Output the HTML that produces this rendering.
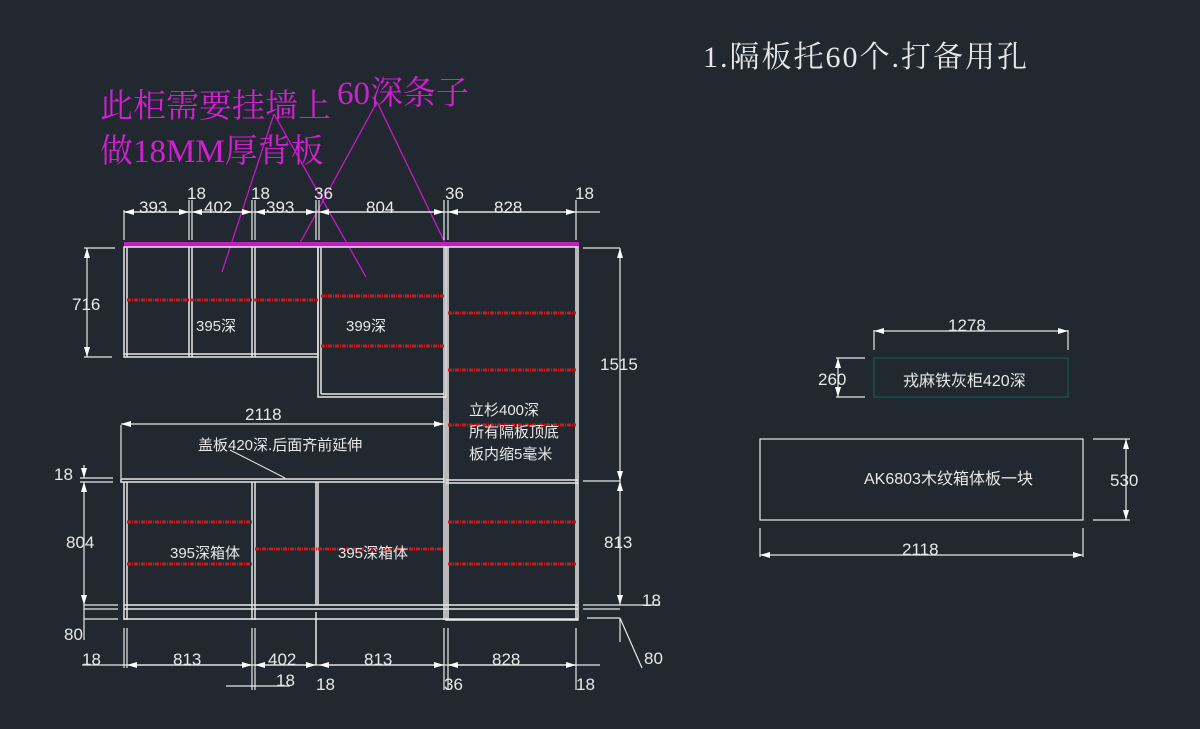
<!DOCTYPE html>
<html><head><meta charset="utf-8"><style>
html,body{margin:0;padding:0;background:#212830;}
svg{display:block}
text{font-family:"Liberation Sans","Noto Sans CJK SC",sans-serif;fill:#e8e8e8;}
.s{font-family:"Liberation Serif","Noto Serif CJK SC",serif;}
</style></head><body>
<svg width="1200" height="729" viewBox="0 0 1200 729" xmlns="http://www.w3.org/2000/svg">
<rect width="1200" height="729" fill="#212830"/>
<defs>
<marker id="a" viewBox="0 0 10 6" refX="10" refY="3" markerWidth="10" markerHeight="6" orient="auto-start-reverse" markerUnits="userSpaceOnUse"><path d="M0,0L10,3L0,6z" fill="#fff"/></marker>
</defs>
<!-- title -->
<text class="s" x="703" y="67" font-size="30" letter-spacing="2" fill="#eee">1.隔板托60个.打备用孔</text>
<!-- magenta notes -->
<text class="s" x="100" y="117" font-size="33" style="fill:#d020d0">此柜需要挂墙上</text>
<text class="s" x="100" y="162" font-size="33" style="fill:#d020d0">做18MM厚背板</text>
<text class="s" x="337" y="104" font-size="33" style="fill:#d020d0">60深条子</text>
<g stroke="#c818c8" stroke-width="1.3" fill="none">
<line x1="274" y1="114" x2="222" y2="272"/><line x1="274" y1="114" x2="366" y2="277"/>
<line x1="377" y1="102" x2="300" y2="243"/><line x1="377" y1="102" x2="446" y2="245"/>
</g>
<rect x="124" y="242" width="455" height="5" fill="#c020c0"/>
<!-- cabinets -->
<g stroke="#e8e8e8" stroke-width="1.5" fill="none">
<rect x="124" y="247" width="194" height="110"/>
<line x1="127" y1="247" x2="127" y2="357"/>
<line x1="189" y1="247" x2="189" y2="357"/><line x1="192" y1="247" x2="192" y2="357"/>
<line x1="252" y1="247" x2="252" y2="357"/><line x1="255" y1="247" x2="255" y2="357"/>
<line x1="124" y1="354" x2="318" y2="354"/>
<rect x="318" y="247" width="128" height="150"/>
<line x1="321" y1="247" x2="321" y2="394"/><line x1="321" y1="394" x2="444" y2="394"/>
<line x1="444" y1="247" x2="444" y2="620"/>
<rect x="446" y="247" width="132" height="373"/>
<line x1="448" y1="247" x2="448" y2="620"/><line x1="576" y1="247" x2="576" y2="620"/>
<line x1="446" y1="480" x2="578" y2="480"/><line x1="446" y1="483" x2="578" y2="483"/>
<!-- lower -->
<rect x="121" y="479" width="323" height="3"/>
<line x1="124" y1="482" x2="124" y2="620"/><line x1="127" y1="482" x2="127" y2="620"/>
<line x1="252" y1="482" x2="252" y2="620"/><line x1="255" y1="482" x2="255" y2="620"/>
<line x1="316" y1="482" x2="316" y2="605"/><line x1="318" y1="482" x2="318" y2="605"/>
<line x1="124" y1="605" x2="578" y2="605"/><line x1="124" y1="609" x2="578" y2="609"/>
<line x1="124" y1="619" x2="578" y2="619"/>
<line x1="316" y1="612" x2="316" y2="665"/>
</g>
<!-- red shelves -->
<g stroke="#d01818" stroke-width="3" stroke-dasharray="4,1,1,1" fill="none">
<line x1="127" y1="300" x2="318" y2="300"/>
<line x1="321" y1="296" x2="444" y2="296"/><line x1="321" y1="346" x2="444" y2="346"/>
<line x1="448" y1="313" x2="576" y2="313"/><line x1="448" y1="370" x2="576" y2="370"/><line x1="448" y1="425" x2="576" y2="425"/>
<line x1="127" y1="522" x2="252" y2="522"/><line x1="127" y1="564" x2="252" y2="564"/>
<line x1="255" y1="549" x2="443" y2="549"/>
<line x1="448" y1="522" x2="576" y2="522"/><line x1="448" y1="564" x2="576" y2="564"/>
</g>
<!-- labels in cabinets -->
<text x="196" y="331" font-size="15">395深</text>
<text x="346" y="331" font-size="15">399深</text>
<text x="469" y="415" font-size="15">立杉400深</text>
<text x="469" y="437" font-size="15">所有隔板顶底</text>
<text x="469" y="459" font-size="15">板内缩5毫米</text>
<text x="198" y="450" font-size="15">盖板420深.后面齐前延伸</text>
<line x1="230" y1="450" x2="285" y2="478" stroke="#e8e8e8" stroke-width="1"/>
<text x="170" y="558" font-size="15">395深箱体</text>
<text x="338" y="558" font-size="15">395深箱体</text>
<!-- top dims -->
<g stroke="#e8e8e8" stroke-width="1.2" fill="none">
<line x1="124" y1="240" x2="124" y2="210"/>
<line x1="189" y1="240" x2="189" y2="200"/><line x1="192" y1="240" x2="192" y2="200"/>
<line x1="252" y1="240" x2="252" y2="200"/><line x1="255" y1="240" x2="255" y2="200"/>
<line x1="316" y1="240" x2="316" y2="200"/><line x1="319" y1="240" x2="319" y2="200"/>
<line x1="444" y1="240" x2="444" y2="200"/><line x1="448" y1="240" x2="448" y2="200"/>
<line x1="576" y1="240" x2="576" y2="200"/>
<line x1="124" y1="212" x2="600" y2="212"/>
<line x1="124" y1="212" x2="189" y2="212" marker-start="url(#a)" marker-end="url(#a)"/>
<line x1="192" y1="212" x2="252" y2="212" marker-start="url(#a)" marker-end="url(#a)"/>
<line x1="255" y1="212" x2="316" y2="212" marker-start="url(#a)" marker-end="url(#a)"/>
<line x1="319" y1="212" x2="444" y2="212" marker-start="url(#a)" marker-end="url(#a)"/>
<line x1="448" y1="212" x2="576" y2="212" marker-start="url(#a)" marker-end="url(#a)"/>
</g>
<g font-size="17">
<text x="139" y="213">393</text><text x="204" y="213">402</text><text x="266" y="213">393</text>
<text x="366" y="213">804</text><text x="494" y="213">828</text>
<text x="187" y="199">18</text><text x="251" y="199">18</text><text x="314" y="199">36</text>
<text x="445" y="199">36</text><text x="575" y="199">18</text>
</g>
<!-- left dims -->
<g stroke="#e8e8e8" stroke-width="1.2" fill="none">
<line x1="84" y1="248" x2="115" y2="248"/><line x1="84" y1="357" x2="112" y2="357"/>
<line x1="87" y1="248" x2="87" y2="357" marker-start="url(#a)" marker-end="url(#a)"/>
<line x1="121" y1="478" x2="121" y2="425"/><line x1="444" y1="478" x2="444" y2="410"/>
<line x1="121" y1="424" x2="444" y2="424" marker-start="url(#a)" marker-end="url(#a)"/>
<line x1="80" y1="478" x2="113" y2="478"/><line x1="80" y1="482" x2="113" y2="482"/>
<line x1="84" y1="465" x2="84" y2="478" marker-end="url(#a)"/>
<line x1="84" y1="482" x2="84" y2="605" marker-start="url(#a)" marker-end="url(#a)"/>
<line x1="84" y1="605" x2="84" y2="640"/>
<line x1="84" y1="605" x2="118" y2="605"/><line x1="84" y1="609" x2="118" y2="609"/><line x1="84" y1="619" x2="118" y2="619"/>
</g>
<g font-size="17">
<text x="72" y="310">716</text><text x="245" y="420">2118</text>
<text x="54" y="480">18</text><text x="66" y="548">804</text><text x="64" y="640">80</text>
</g>
<!-- right dims of left drawing -->
<g stroke="#e8e8e8" stroke-width="1.2" fill="none">
<line x1="583" y1="248" x2="620" y2="248"/><line x1="583" y1="481" x2="620" y2="481"/>
<line x1="620" y1="248" x2="620" y2="481" marker-start="url(#a)" marker-end="url(#a)"/>
<line x1="620" y1="481" x2="620" y2="605" marker-start="url(#a)" marker-end="url(#a)"/>
<line x1="583" y1="605" x2="660" y2="605"/><line x1="583" y1="609" x2="620" y2="609"/><line x1="587" y1="618" x2="620" y2="618"/>
<line x1="620" y1="618" x2="620" y2="642"/>
<line x1="620" y1="618" x2="642" y2="668"/>
</g>
<g font-size="17"><text x="600" y="370">1515</text><text x="604" y="548">813</text>
<text x="642" y="606">18</text><text x="644" y="664">80</text></g>
<!-- bottom dims -->
<g stroke="#e8e8e8" stroke-width="1.2" fill="none">
<line x1="124" y1="628" x2="124" y2="668"/><line x1="127" y1="628" x2="127" y2="668"/>
<line x1="252" y1="628" x2="252" y2="690"/><line x1="255" y1="628" x2="255" y2="690"/>
<line x1="444" y1="628" x2="444" y2="690"/><line x1="448" y1="628" x2="448" y2="690"/>
<line x1="576" y1="628" x2="576" y2="690"/>
<line x1="82" y1="665" x2="600" y2="665"/>
<line x1="127" y1="665" x2="252" y2="665" marker-start="url(#a)" marker-end="url(#a)"/>
<line x1="255" y1="665" x2="316" y2="665" marker-start="url(#a)" marker-end="url(#a)"/>
<line x1="319" y1="665" x2="444" y2="665" marker-start="url(#a)" marker-end="url(#a)"/>
<line x1="448" y1="665" x2="576" y2="665" marker-start="url(#a)" marker-end="url(#a)"/>
<line x1="226" y1="686" x2="290" y2="686"/>
</g>
<g font-size="17">
<text x="82" y="665">18</text><text x="173" y="665">813</text><text x="268" y="665">402</text>
<text x="364" y="665">813</text><text x="492" y="665">828</text>
<text x="276" y="686">18</text><text x="316" y="690">18</text><text x="444" y="690">36</text><text x="576" y="690">18</text>
</g>
<!-- right side drawings -->
<rect x="874" y="358" width="194" height="39" fill="none" stroke="#1c4444" stroke-width="2"/>
<text x="903" y="386" font-size="16">戎麻铁灰柜420深</text>
<g stroke="#e8e8e8" stroke-width="1.2" fill="none">
<line x1="874" y1="330" x2="874" y2="350"/><line x1="1068" y1="330" x2="1068" y2="350"/>
<line x1="874" y1="331" x2="1068" y2="331" marker-start="url(#a)" marker-end="url(#a)"/>
<line x1="836" y1="358" x2="865" y2="358"/><line x1="836" y1="397" x2="865" y2="397"/>
<line x1="838" y1="358" x2="838" y2="397" marker-start="url(#a)" marker-end="url(#a)"/>
<rect x="760" y="439" width="323" height="81"/>
<line x1="1093" y1="439" x2="1130" y2="439"/><line x1="1093" y1="520" x2="1130" y2="520"/>
<line x1="1126" y1="439" x2="1126" y2="520" marker-start="url(#a)" marker-end="url(#a)"/>
<line x1="760" y1="528" x2="760" y2="557"/><line x1="1083" y1="528" x2="1083" y2="557"/>
<line x1="760" y1="555" x2="1083" y2="555" marker-start="url(#a)" marker-end="url(#a)"/>
</g>
<text x="948" y="331" font-size="17">1278</text>
<text x="818" y="385" font-size="17">260</text>
<text x="864" y="484" font-size="16">AK6803木纹箱体板一块</text>
<text x="1110" y="486" font-size="17">530</text>
<text x="902" y="555" font-size="17">2118</text>
</svg>
</body></html>
